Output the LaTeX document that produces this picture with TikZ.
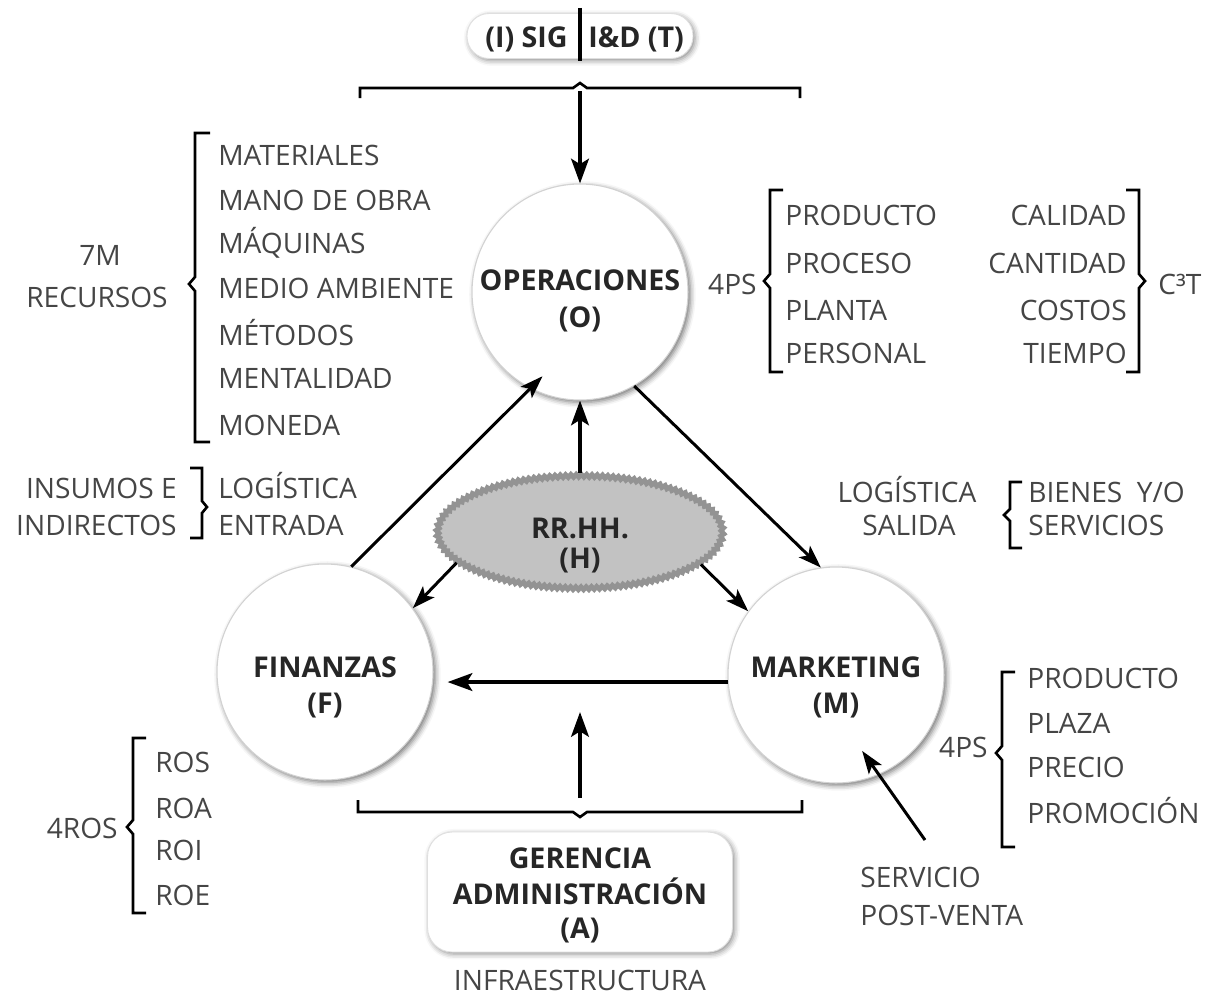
\documentclass[tikz,border=0pt]{standalone}
\usepackage{fontspec}
\setmainfont{Open Sans}
\usetikzlibrary{shapes.geometric,arrows.meta,shadows.blur,decorations.pathmorphing,calc}
\definecolor{txtc}{HTML}{454545}
\definecolor{bldc}{HTML}{262626}
\begin{document}
\begin{tikzpicture}[x=0.02cm,y=-0.02cm,
  txt/.style={font=\fontsize{16}{20}\selectfont, text=txtc, inner sep=0pt, text height=11.5pt, text depth=0pt},
  lt/.style={txt, anchor=west},
  rt/.style={txt, anchor=east},
  ct/.style={txt, anchor=center},
  bt/.style={font=\fontsize{16.3}{21}\selectfont\bfseries, text=bldc, inner sep=0pt, text height=11.5pt, text depth=0pt},
  brk/.style={line width=1.5pt, line join=miter},
  circ/.style={circle, minimum size=4.32cm, inner sep=0pt, fill=white, draw=gray!35, line width=0.6pt,
    blur shadow={shadow xshift=1.4pt, shadow yshift=-1.4pt, shadow blur radius=3pt, shadow opacity=55}},
  hr/.style={ellipse, minimum width=5.7cm, minimum height=2.25cm, fill=gray!48, draw=gray!85, line width=2.8pt,
    decorate, decoration={zigzag, segment length=3pt, amplitude=0.8pt}},
  boxw/.style={rectangle, fill=white, draw=gray!25, line width=0.5pt,
    blur shadow={shadow xshift=1.2pt, shadow yshift=-1.2pt, shadow blur radius=3pt, shadow opacity=45}},
  arr/.style={line width=1.7pt, -{Stealth[length=13pt,width=9pt,inset=3pt]}},
  arrT/.style={line width=2.4pt, -{Stealth[length=14pt,width=10pt,inset=3pt]}},
]
\useasboundingbox (0,0) rectangle (1209,995);

% top pill
\node[boxw, rounded corners=12.5pt, minimum width=4.52cm, minimum height=0.9cm] (P) at (580,36) {};
\node[bt, anchor=east] (P1) at (568,37) {(I) SIG};
\node[bt, anchor=west] (P2) at (588,37) {I\&D (T)};
\draw[line width=2.2pt] ([yshift=3pt]P.north) -- ([yshift=-1pt]P.south);

% top bracket
\draw[brk] (360,98) -- (360,88) -- (573,88) -- (580,83) -- (587,88) -- (800,88) -- (800,98);
\coordinate (topb) at (580,91);

% circles
\node[circ] (O) at (580,292) {};
\node[bt] (Ol1) at (580,280) {OPERACIONES};
\node[bt] (Ol2) at (580,317) {(O)};
\node[circ] (F) at (325,672) {};
\node[bt] (Fl1) at (325,667) {FINANZAS};
\node[bt] (Fl2) at (325,703) {(F)};
\node[circ] (M) at (836,675) {};
\node[bt] (Ml1) at (836,667) {MARKETING};
\node[bt] (Ml2) at (836,703) {(M)};

% RR.HH.
\node[hr] (H) at (580,532) {};
\node[bt] (Hl1) at (580,528) {RR.HH.};
\node[bt] (Hl2) at (580,558) {(H)};

% Gerencia
\node[boxw, rounded corners=14pt, minimum width=6.1cm, minimum height=2.4cm] (G) at (580,892) {};
\node[bt] (G1) at (580,858) {GERENCIA};
\node[bt] (G2) at (580,894) {ADMINISTRACIÓN};
\node[bt] (G3) at (580,928) {(A)};
\node[ct] (INF) at (580,980) {INFRAESTRUCTURA};

% bottom bracket
\draw[brk] (358,800) -- (358,812) -- (573,812) -- (580,817) -- (587,812) -- (802,812) -- (802,800);
\coordinate (botb) at (580,798);
\coordinate (bote) at (580,712);

% 7M
\node[ct] (m7) at (100,255) {7M};
\node[ct] (rec) at (97,297) {RECURSOS};
\draw[brk] (210,133) -- (195,133) -- (195,277) -- (189,284) -- (195,291) -- (195,442) -- (210,442);
\node[lt] (a1) at (218,155) {MATERIALES};
\node[lt] (a2) at (218,200) {MANO DE OBRA};
\node[lt] (a3) at (218,243) {MÁQUINAS};
\node[lt] (a4) at (218,288) {MEDIO AMBIENTE};
\node[lt] (a5) at (218,335) {MÉTODOS};
\node[lt] (a6) at (218,378) {MENTALIDAD};
\node[lt] (a7) at (218,425) {MONEDA};

% insumos
\node[rt] (b1) at (177,488) {INSUMOS E};
\node[rt] (b2) at (177,525) {INDIRECTOS};
\draw[brk] (190,468) -- (202,468) -- (202,501) -- (207,507) -- (202,513) -- (202,538) -- (190,538);
\node[lt] (b3) at (218,488) {LOGÍSTICA};
\node[lt] (b4) at (218,525) {ENTRADA};

% 4PS O
\node[rt] (c0) at (757,284) {4PS};
\draw[brk] (783,190) -- (770,190) -- (770,274) -- (764,281) -- (770,288) -- (770,372) -- (783,372);
\node[lt] (c1) at (785,215) {PRODUCTO};
\node[lt] (c2) at (785,263) {PROCESO};
\node[lt] (c3) at (785,310) {PLANTA};
\node[lt] (c4) at (785,353) {PERSONAL};
\node[rt] (d1) at (1127,215) {CALIDAD};
\node[rt] (d2) at (1127,263) {CANTIDAD};
\node[rt] (d3) at (1127,310) {COSTOS};
\node[rt] (d4) at (1127,353) {TIEMPO};
\draw[brk] (1126,190) -- (1139,190) -- (1139,274) -- (1145,281) -- (1139,288) -- (1139,372) -- (1126,372);
\node[lt] (d0) at (1158,284) {C³T};

% logistica salida
\node[ct] (e1) at (907,492) {LOGÍSTICA};
\node[ct] (e2) at (909,525) {SALIDA};
\draw[brk] (1022,482) -- (1010,482) -- (1010,509) -- (1004,515) -- (1010,521) -- (1010,548) -- (1022,548);
\node[lt] (e3) at (1028,492) {BIENES\ \ Y/O};
\node[lt] (e4) at (1028,525) {SERVICIOS};

% 4PS M
\node[rt] (f0) at (988,747) {4PS};
\draw[brk] (1015,672) -- (1002,672) -- (1002,746) -- (996,753) -- (1002,760) -- (1002,847) -- (1015,847);
\node[lt] (f1) at (1027,678) {PRODUCTO};
\node[lt] (f2) at (1027,723) {PLAZA};
\node[lt] (f3) at (1027,767) {PRECIO};
\node[lt] (f4) at (1027,813) {PROMOCIÓN};

% servicio post-venta
\node[lt] (s1) at (860,877) {SERVICIO};
\node[lt] (s2) at (860,915) {POST-VENTA};
\coordinate (spa) at (925,840);

% 4ROS
\node[rt] (g0) at (118,828) {4ROS};
\draw[brk] (146,738) -- (133,738) -- (133,820) -- (127,827) -- (133,834) -- (133,913) -- (146,913);
\node[lt] (g1) at (155,762) {ROS};
\node[lt] (g2) at (155,808) {ROA};
\node[lt] (g3) at (155,850) {ROI};
\node[lt] (g4) at (155,895) {ROE};

% arrows
\draw[arrT] (topb) -- (O.north);
\draw[arrT] (H.north) -- (O.south);
\draw[arr] (F.76) -- ($(O.center)!0.85!(O.246)$);
\draw[arr] (O.300) -- (M.98);
\draw[arr] (H.194) -- (F.36);
\draw[arr] (H.345) -- (M.144);
\draw[arrT, shorten >=8pt] ([yshift=-4pt]M.west) -- ([yshift=-4pt]M.west -| F.east);
\draw[arrT] (botb) -- (bote);
\draw[arr] (spa) -- ($(M.center)!0.74!(M.289)$);
\end{tikzpicture}
\end{document}
